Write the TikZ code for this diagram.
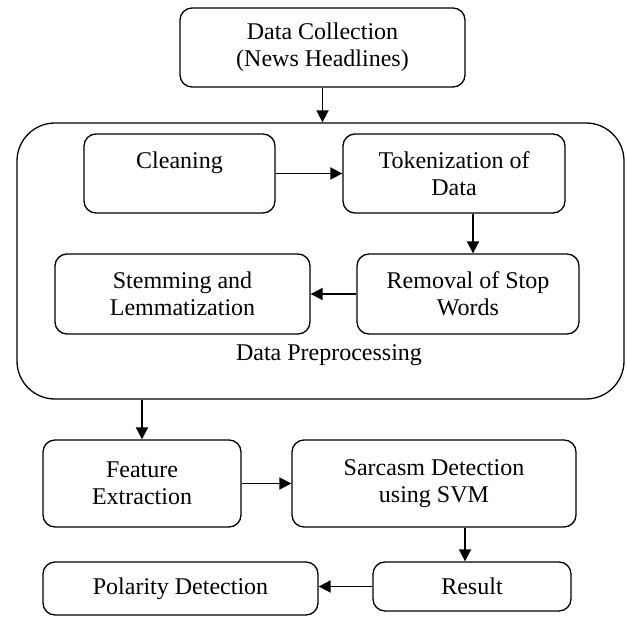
\documentclass[tikz,border=0pt]{standalone}
\usepackage{fontspec}
\setmainfont{Liberation Serif}
\usetikzlibrary{arrows.meta}

\begin{document}
\begin{tikzpicture}[x=1pt,y=-1pt,
	box/.style={draw,rounded corners=12pt,line width=1.3pt,inner sep=0pt,align=center,font=\fontsize{24}{27}\selectfont},
	arr/.style={-{Triangle[length=12pt,width=12pt]},line width=1.8pt}]

\useasboundingbox (0,0) rectangle (627,617);

% outer block
\node[box,rounded corners=38pt,minimum width=607pt,minimum height=276pt] (pre) at (320.5,261) {};
\node[font=\fontsize{24}{27}\selectfont,inner sep=0pt] (prelabel) at (329,355) {Data Preprocessing};

\node[box,minimum width=285pt,minimum height=79pt] (dc) at (322.5,47.5) {Data Collection\\(News Headlines)};

\node[box,minimum width=191pt,minimum height=79pt] (cl) at (179.5,173.5) {Cleaning\\\mbox{}};
\node[box,minimum width=222pt,minimum height=79pt] (tok) at (454,173.5) {Tokenization of\\Data};
\node[box,minimum width=255pt,minimum height=80pt] (stem) at (182.5,294) {Stemming and\\Lemmatization};
\node[box,minimum width=222pt,minimum height=80pt] (rem) at (468,294) {Removal of Stop\\Words};

\node[box,minimum width=198pt,minimum height=87pt] (fe) at (142,483.5) {Feature\\Extraction};
\node[box,minimum width=284pt,minimum height=87pt] (sd) at (434,483.5) {Sarcasm Detection\\using SVM};
\node[box,minimum width=198pt,minimum height=49pt] (res) at (472,586.5) {Result};
\node[box,minimum width=275pt,minimum height=53pt] (pol) at (180.5,588.5) {Polarity Detection};

% connectors
\draw[arr] (dc.south) -- (dc.south |- pre.north);
\draw[arr] (cl.east) -- (cl.east -| tok.west);
\draw[arr] ([xshift=5pt]rem.north |- tok.south) -- ([xshift=5pt]rem.north);
\draw[arr] (rem.west) -- (rem.west -| stem.east);
\draw[arr] (fe.north |- pre.south) -- (fe.north);
\draw[arr] (fe.east) -- (fe.east -| sd.west);
\draw[arr] ([xshift=-7pt]res.north |- sd.south) -- ([xshift=-7pt]res.north);
\draw[arr] (res.west) -- (res.west -| pol.east);
\end{tikzpicture}
\end{document}
